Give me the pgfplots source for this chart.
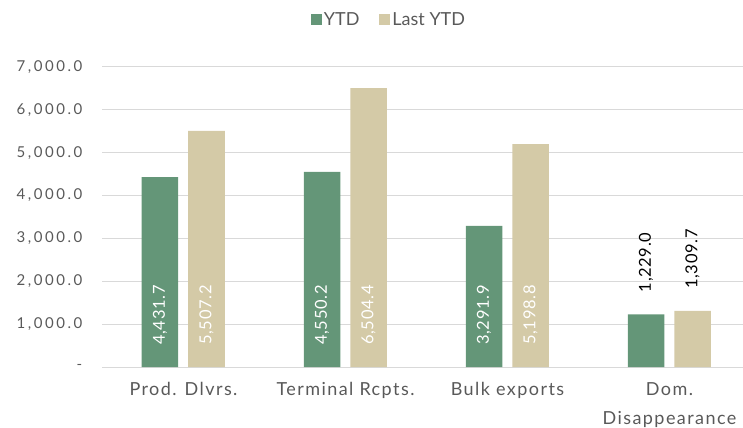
\documentclass[border=0pt]{standalone}
\usepackage{pgfplots}
\pgfplotsset{compat=1.18}
\usepackage{fontspec}
\setmainfont{Lato}
\newfontfamily\tickfont{Lato}[LetterSpace=17]
\newfontfamily\catfont{Lato}[LetterSpace=8]
\newfontfamily\valfont{Lato}[LetterSpace=4]
\definecolor{ytd}{RGB}{100,150,120}
\definecolor{lytd}{RGB}{212,202,167}
\definecolor{txt}{RGB}{89,89,89}
\definecolor{grd}{RGB}{217,217,217}
\pgfplotsset{
  lbl/.style 2 args={forget plot, ybar, bar width=36.5bp, bar shift=#2, draw=none, fill=none, point meta=explicit,
    nodes near coords={\pgfmathprintnumber[fixed, fixed zerofill, precision=1, 1000 sep={,}, assume math mode=true]{\pgfplotspointmeta}},
    every node near coord/.append style={xshift=#2, rotate=90, anchor=west, inner xsep=22bp, inner ysep=0pt, text=#1, font=\valfont\fontsize{16.5bp}{18bp}\selectfont}},
}
\begin{document}
\begin{tikzpicture}
\begin{axis}[name=ax, scale only axis, width=640.5bp, height=300bp,
  xmin=-0.5, xmax=3.4537, ymin=0, ymax=7000, clip=false,
  xtick={0,1,2,3},
  xticklabels={Prod. Dlvrs., Terminal Rcpts., Bulk exports, {Dom.\\Disappearance}},
  ytick={0,1000,2000,3000,4000,5000,6000,7000},
  yticklabels={{-\hspace{13bp}},{1,000.0},{2,000.0},{3,000.0},{4,000.0},{5,000.0},{6,000.0},{7,000.0}},
  axis line style={draw=none}, tick style={draw=none},
  ymajorgrids, grid style={grd, line width=1bp},
  yticklabel style={anchor=east, inner sep=0pt, xshift=-20bp, font=\tickfont\fontsize{15bp}{17bp}\selectfont, text=txt},
  xticklabel style={anchor=north, inner sep=0pt, yshift=-15bp, align=center, font=\catfont\fontsize{18bp}{29.5bp}\selectfont, text=txt},
  legend style={at={(0.4473,1.157)}, anchor=center, draw=none, fill=none, legend columns=2,
    font=\fontsize{18bp}{20bp}\selectfont, text=txt,
    /tikz/every even column/.append style={column sep=18bp}},
]
\addplot[ybar, bar width=36.5bp, bar shift=-23.5bp, fill=ytd, draw=none,
  legend image code/.code={\fill[ytd] (0bp,-5.5bp) rectangle (11bp,5.5bp);}]
  coordinates {(0,4431.7) (1,4550.2) (2,3291.9) (3,1229.0)};
\addlegendentry{YTD}
\addplot[ybar, bar width=36.5bp, bar shift=23bp, fill=lytd, draw=none,
  legend image code/.code={\fill[lytd] (0bp,-5.5bp) rectangle (11bp,5.5bp);}]
  coordinates {(0,5507.2) (1,6504.4) (2,5198.8) (3,1309.7)};
\addlegendentry{Last YTD}
\addplot[lbl={white}{-23.5bp}] coordinates {(0,0)[4431.7] (1,0)[4550.2] (2,0)[3291.9]};
\addplot[lbl={white}{23bp}] coordinates {(0,0)[5507.2] (1,0)[6504.4] (2,0)[5198.8]};
\addplot[lbl={black}{-23.5bp}] coordinates {(3,1229.0)[1229.0]};
\addplot[lbl={black}{23bp}] coordinates {(3,1309.7)[1309.7]};
\end{axis}
\pgfresetboundingbox
\path[use as bounding box] ([xshift=-102.5bp,yshift=-61bp]ax.south west) rectangle ([yshift=67bp]ax.north east);
\end{tikzpicture}
\end{document}
